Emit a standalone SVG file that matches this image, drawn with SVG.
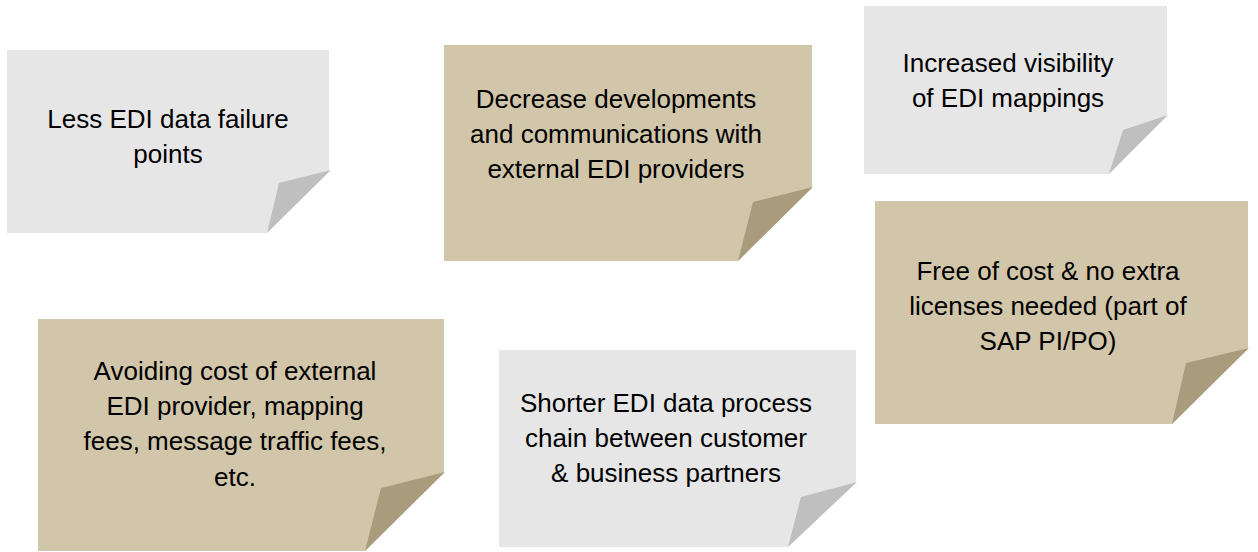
<svg xmlns="http://www.w3.org/2000/svg" width="1258" height="552" viewBox="0 0 1258 552">
<style>
.g{fill:#e6e6e6}
.gf{fill:#bfbfbf}
.t{fill:#d1c6aa}
.tf{fill:#a99c7c}
text{font-family:"Liberation Sans",Arial,sans-serif;font-size:26px;fill:#000;text-anchor:middle}
</style>
<rect width="1258" height="552" fill="#fff"/>
<g id="connectors"/>
<g id="note1">
<polygon class="g" points="7,50 329,50 329,170 267,233 7,233"/>
<polygon class="gf" points="331,170 279,183 267,233"/>
<text x="168" y="128">Less EDI data failure</text>
<text x="168" y="163">points</text>
</g>
<g id="note2">
<polygon class="t" points="444,45 812,45 812,187 738,261 444,261"/>
<polygon class="tf" points="813,187 753,202 738,261"/>
<text x="616" y="108">Decrease developments</text>
<text x="616" y="143">and communications with</text>
<text x="616" y="178">external EDI providers</text>
</g>
<g id="note3">
<polygon class="g" points="864,6 1167,6 1167,115 1109,174 864,174"/>
<polygon class="gf" points="1168,115 1123,130 1109,174"/>
<text x="1008" y="72">Increased visibility</text>
<text x="1008" y="107">of EDI mappings</text>
</g>
<g id="note4">
<polygon class="t" points="875,201 1248,201 1248,348 1172,424 875,424"/>
<polygon class="tf" points="1249,348 1186,363 1172,424"/>
<text x="1048" y="280">Free of cost &amp; no extra</text>
<text x="1048" y="315">licenses needed (part of</text>
<text x="1048" y="350">SAP PI/PO)</text>
</g>
<g id="note5">
<polygon class="t" points="38,319 444,319 444,472 365,551 38,551"/>
<polygon class="tf" points="445,472 381,488 365,551"/>
<text x="235" y="380">Avoiding cost of external</text>
<text x="235" y="415">EDI provider, mapping</text>
<text x="235" y="450">fees, message traffic fees,</text>
<text x="235" y="486">etc.</text>
</g>
<g id="note6">
<polygon class="g" points="499,350 856,350 856,482 788,547 499,547"/>
<polygon class="gf" points="857,482 801,497 788,547"/>
<text x="666" y="412">Shorter EDI data process</text>
<text x="666" y="447">chain between customer</text>
<text x="666" y="482">&amp; business partners</text>
</g>
</svg>
